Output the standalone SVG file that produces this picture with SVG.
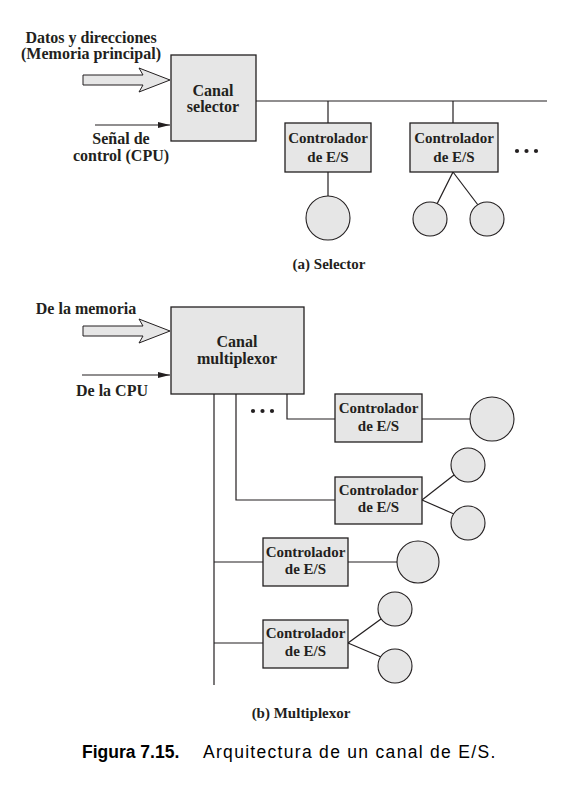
<svg xmlns="http://www.w3.org/2000/svg" width="578" height="785" viewBox="0 0 578 785">
<style>
.box{fill:#e6e6e6;stroke:#231f20;stroke-width:1.3}
.dev{fill:#e6e6e6;stroke:#231f20;stroke-width:1.1}
.ln{fill:none;stroke:#231f20;stroke-width:1.2}
.fat{fill:#e6e6e6;stroke:#231f20;stroke-width:1}
text{font-family:"Liberation Serif","Times New Roman",serif;font-weight:bold;font-size:16px;fill:#231f20;text-anchor:middle}
.ct{font-size:15px}
.sub{font-size:15px}
.cap{font-family:"Liberation Sans",Arial,sans-serif;font-size:17.5px;font-weight:normal;text-anchor:start;letter-spacing:1.3px;fill:#000}
.capb{font-family:"Liberation Sans",Arial,sans-serif;font-size:17.5px;font-weight:bold;text-anchor:start;fill:#000}
.dot{fill:#231f20}
</style>
<defs>
<marker id="ah" viewBox="0 0 12 6" refX="12" refY="3" markerWidth="12" markerHeight="6" markerUnits="userSpaceOnUse" orient="auto">
<path d="M0,0 L12,3 L0,6 Z" fill="#231f20"/>
</marker>
</defs>
<g id="connectors">
<polygon class="fat" points="83,75 143,75 139,68 170,80 139,92 143,85 83,85"/>
<line class="ln" x1="95" y1="125" x2="170" y2="125" marker-end="url(#ah)"/>
<line class="ln" x1="256" y1="101" x2="547" y2="101"/>
<line class="ln" x1="328" y1="101" x2="328" y2="123"/>
<line class="ln" x1="453" y1="101" x2="453" y2="123"/>
<line class="ln" x1="328" y1="172" x2="328" y2="196"/>
<line class="ln" x1="453" y1="172" x2="437" y2="204"/>
<line class="ln" x1="453" y1="172" x2="478" y2="205"/>
<polygon class="fat" points="83,326 143,326 139,319 170,331 139,343 143,336 83,336"/>
<line class="ln" x1="82" y1="375" x2="170" y2="375" marker-end="url(#ah)"/>
<polyline class="ln" points="287,394 287,419 335,419"/>
<polyline class="ln" points="236,394 236,500 335,500"/>
<line class="ln" x1="214" y1="394" x2="214" y2="685"/>
<line class="ln" x1="214" y1="562" x2="263" y2="562"/>
<line class="ln" x1="214" y1="643" x2="263" y2="643"/>
<line class="ln" x1="422" y1="419" x2="470" y2="419"/>
<line class="ln" x1="422" y1="500" x2="454" y2="475"/>
<line class="ln" x1="422" y1="500" x2="454" y2="514"/>
<line class="ln" x1="348" y1="562" x2="397" y2="562"/>
<line class="ln" x1="348" y1="643" x2="381" y2="619"/>
<line class="ln" x1="348" y1="643" x2="381" y2="657"/>
</g>
<g id="labels-in">
<text x="91" y="43">Datos y direcciones</text>
<text x="91" y="59">(Memoria principal)</text>
<text x="121" y="144">Señal de</text>
<text x="121" y="161">control (CPU)</text>
<text x="86" y="314">De la memoria</text>
<text x="112" y="396">De la CPU</text>
</g>
<g id="canal-selector">
<rect class="box" x="171" y="55" width="85" height="86"/>
<text x="213" y="96">Canal</text>
<text x="213" y="112">selector</text>
</g>
<g id="sel-ctrl1">
<rect class="box" x="285" y="123" width="86" height="49"/>
<text class="ct" x="328" y="143">Controlador</text>
<text class="ct" x="328" y="162">de E/S</text>
</g>
<g id="sel-ctrl2">
<rect class="box" x="410" y="123" width="88" height="49"/>
<text class="ct" x="454" y="143">Controlador</text>
<text class="ct" x="454" y="162">de E/S</text>
</g>
<g id="sel-dots">
<circle class="dot" cx="517" cy="151" r="2.1"/>
<circle class="dot" cx="526.5" cy="151" r="2.1"/>
<circle class="dot" cx="536" cy="151" r="2.1"/>
</g>
<g id="sel-dev1"><circle class="dev" cx="328" cy="218" r="22"/></g>
<g id="sel-dev2"><circle class="dev" cx="430" cy="219" r="17"/></g>
<g id="sel-dev3"><circle class="dev" cx="487" cy="219" r="17"/></g>
<text class="sub" x="329" y="269">(a) Selector</text>
<g id="canal-multiplexor">
<rect class="box" x="171" y="307" width="133" height="87"/>
<text x="237" y="347">Canal</text>
<text x="237" y="364">multiplexor</text>
</g>
<g id="mux-dots">
<circle class="dot" cx="253" cy="411" r="2.1"/>
<circle class="dot" cx="262.5" cy="411" r="2.1"/>
<circle class="dot" cx="272" cy="411" r="2.1"/>
</g>
<g id="mux-ctrl1">
<rect class="box" x="335" y="394" width="87" height="48"/>
<text class="ct" x="378.5" y="413">Controlador</text>
<text class="ct" x="378.5" y="431">de E/S</text>
</g>
<g id="mux-ctrl2">
<rect class="box" x="335" y="477" width="87" height="47"/>
<text class="ct" x="378.5" y="495">Controlador</text>
<text class="ct" x="378.5" y="512">de E/S</text>
</g>
<g id="mux-ctrl3">
<rect class="box" x="263" y="538" width="85" height="48"/>
<text class="ct" x="305.5" y="557">Controlador</text>
<text class="ct" x="305.5" y="574">de E/S</text>
</g>
<g id="mux-ctrl4">
<rect class="box" x="263" y="620" width="85" height="48"/>
<text class="ct" x="305.5" y="638">Controlador</text>
<text class="ct" x="305.5" y="656">de E/S</text>
</g>
<g id="mux-dev1"><circle class="dev" cx="492" cy="419" r="22"/></g>
<g id="mux-dev2"><circle class="dev" cx="468" cy="465" r="17"/></g>
<g id="mux-dev3"><circle class="dev" cx="468" cy="523" r="17"/></g>
<g id="mux-dev4"><circle class="dev" cx="418" cy="562" r="21"/></g>
<g id="mux-dev5"><circle class="dev" cx="395" cy="609" r="17"/></g>
<g id="mux-dev6"><circle class="dev" cx="395" cy="666" r="17"/></g>
<text class="sub" x="301" y="718">(b) Multiplexor</text>
<text class="capb" x="82" y="758">Figura 7.15.</text>
<text class="cap" x="203" y="758">Arquitectura de un canal de E/S.</text>
</svg>
